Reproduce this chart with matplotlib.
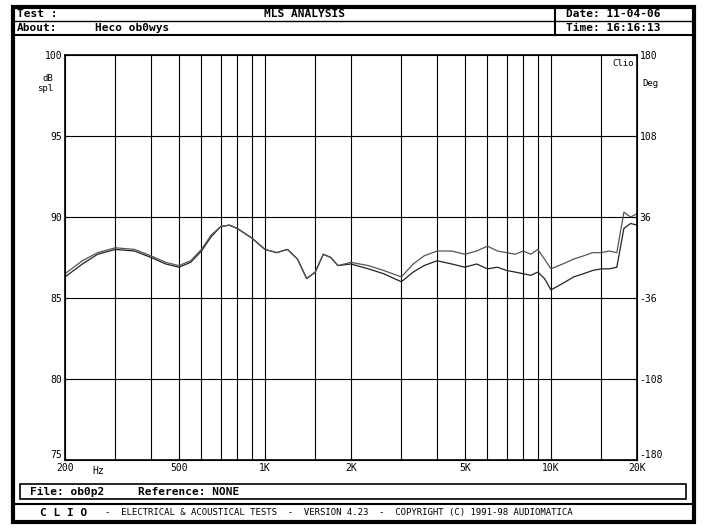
import numpy as np
import matplotlib
matplotlib.use('Agg')
import matplotlib.pyplot as plt
from matplotlib.patches import Rectangle

# frequency response readings (Hz, dB spl)
freq = [200, 230, 260, 300, 350, 400, 450, 500, 550, 600, 650, 700, 750, 800, 900,
        1000, 1100, 1200, 1300, 1400, 1500, 1600, 1700, 1800, 2000, 2300, 2600, 3000,
        3300, 3600, 4000, 4500, 5000, 5500, 6000, 6500, 7000, 7500, 8000, 8500, 9000,
        9500, 10000, 11000, 12000, 13000, 14000, 15000, 16000, 17000, 18000, 19000, 20000]
curve_a = [86.3, 87.1, 87.7, 88.0, 87.9, 87.5, 87.1, 86.9, 87.2, 87.9, 88.8, 89.4, 89.5, 89.3, 88.7,
           88.0, 87.8, 88.0, 87.4, 86.2, 86.6, 87.7, 87.5, 87.0, 87.1, 86.8, 86.5, 86.0,
           86.6, 87.0, 87.3, 87.1, 86.9, 87.1, 86.8, 86.9, 86.7, 86.6, 86.5, 86.4, 86.6,
           86.2, 85.5, 85.9, 86.3, 86.5, 86.7, 86.8, 86.8, 86.9, 89.3, 89.6, 89.5]
curve_b = [86.5, 87.3, 87.8, 88.1, 88.0, 87.6, 87.2, 87.0, 87.3, 88.0, 88.9, 89.4, 89.5, 89.3, 88.7,
           88.0, 87.8, 88.0, 87.4, 86.2, 86.6, 87.7, 87.5, 87.0, 87.2, 87.0, 86.7, 86.3,
           87.1, 87.6, 87.9, 87.9, 87.7, 87.9, 88.2, 87.9, 87.8, 87.7, 87.9, 87.7, 88.0,
           87.4, 86.8, 87.1, 87.4, 87.6, 87.8, 87.8, 87.9, 87.8, 90.3, 90.0, 90.2]

db_ticks = [75, 80, 85, 90, 95, 100]
deg_labels = ['-180', '-108', '-36', '36', '108', '180']
grid_freqs = [300, 400, 500, 600, 700, 800, 900, 1000, 1500, 2000, 3000, 4000,
              5000, 6000, 7000, 8000, 9000, 10000, 15000]
x_ticks = [200, 500, 1000, 2000, 5000, 10000, 20000]
x_labels = ['200', '500', '1K', '2K', '5K', '10K', '20K']

plt.rcParams['font.family'] = 'DejaVu Sans Mono'
W, H = 705, 530
fig = plt.figure(figsize=(W / 100, H / 100), dpi=100)

# frame and header boxes, drawn in pixel coords on a full-figure axes
bg = fig.add_axes([0, 0, 1, 1])
bg.set_xlim(0, W)
bg.set_ylim(H, 0)
bg.axis('off')
bg.add_patch(Rectangle((13, 7), 681, 515, fill=False, lw=3, color='black'))
bg.plot([13, 694], [21, 21], color='black', lw=1)
bg.plot([13, 694], [35, 35], color='black', lw=1.5)
bg.plot([555, 555], [7, 35], color='black', lw=1.5)
bg.add_patch(Rectangle((20, 484), 666, 15, fill=False, lw=1.2, color='black'))
bg.plot([13, 694], [504, 504], color='black', lw=1.5)
hdr = dict(fontsize=8, fontweight='bold', va='center')
bg.text(17, 14, 'Test :', **hdr)
bg.text(305, 14, 'MLS ANALYSIS', ha='center', **hdr)
bg.text(17, 28, 'About:', **hdr)
bg.text(95, 28, 'Heco ob0wys', **hdr)
bg.text(566, 14, 'Date: 11-04-06', **hdr)
bg.text(566, 28, 'Time: 16:16:13', **hdr)
bg.text(30, 491.5, 'File: ob0p2     Reference: NONE', **hdr)
bg.text(40, 513, 'C L I O', **hdr)
bg.text(105, 513, '-  ELECTRICAL & ACOUSTICAL TESTS  -  VERSION 4.23  -  COPYRIGHT (C) 1991-98 AUDIOMATICA',
        fontsize=6.5, va='center')

ax = fig.add_axes([65 / W, 1 - 460 / H, 572 / W, 405 / H])
ax.set_xscale('log')
ax.set_xlim(200, 20000)
ax.set_ylim(75, 100)
for f in grid_freqs:
    ax.axvline(f, color='black', lw=0.8)
for d in db_ticks[1:-1]:
    ax.axhline(d, color='black', lw=0.8)
ax.plot(freq, curve_a, color='#222222', lw=0.9)
ax.plot(freq, curve_b, color='#555555', lw=0.9)
ax.set_yticks(db_ticks)
ax.set_yticklabels([str(d) for d in db_ticks], fontsize=7)
ax.set_xticks(x_ticks)
ax.set_xticklabels(x_labels, fontsize=7)
ax.minorticks_off()
ax.tick_params(direction='in', length=3, pad=2)
for s in ax.spines.values():
    s.set_linewidth(1.2)
ax2 = ax.twinx()
ax2.set_ylim(75, 100)
ax2.set_yticks(db_ticks)
ax2.set_yticklabels(deg_labels, fontsize=7)
ax2.tick_params(direction='in', length=3, pad=2)
ax.get_yticklabels()[0].set_va('bottom')
ax2.get_yticklabels()[0].set_va('bottom')
ax.text(-0.02, 0.93, 'dB\nspl', transform=ax.transAxes, ha='right', va='center', fontsize=6.5)
ax2.text(1.01, 0.93, 'Deg', transform=ax.transAxes, ha='left', va='center', fontsize=6.5)
ax.text(0.995, 0.99, 'Clio', transform=ax.transAxes, ha='right', va='top', fontsize=6.5)
ax.text(250, 74.6, 'Hz', fontsize=7, va='top')

fig.savefig('out.png', dpi=100)
